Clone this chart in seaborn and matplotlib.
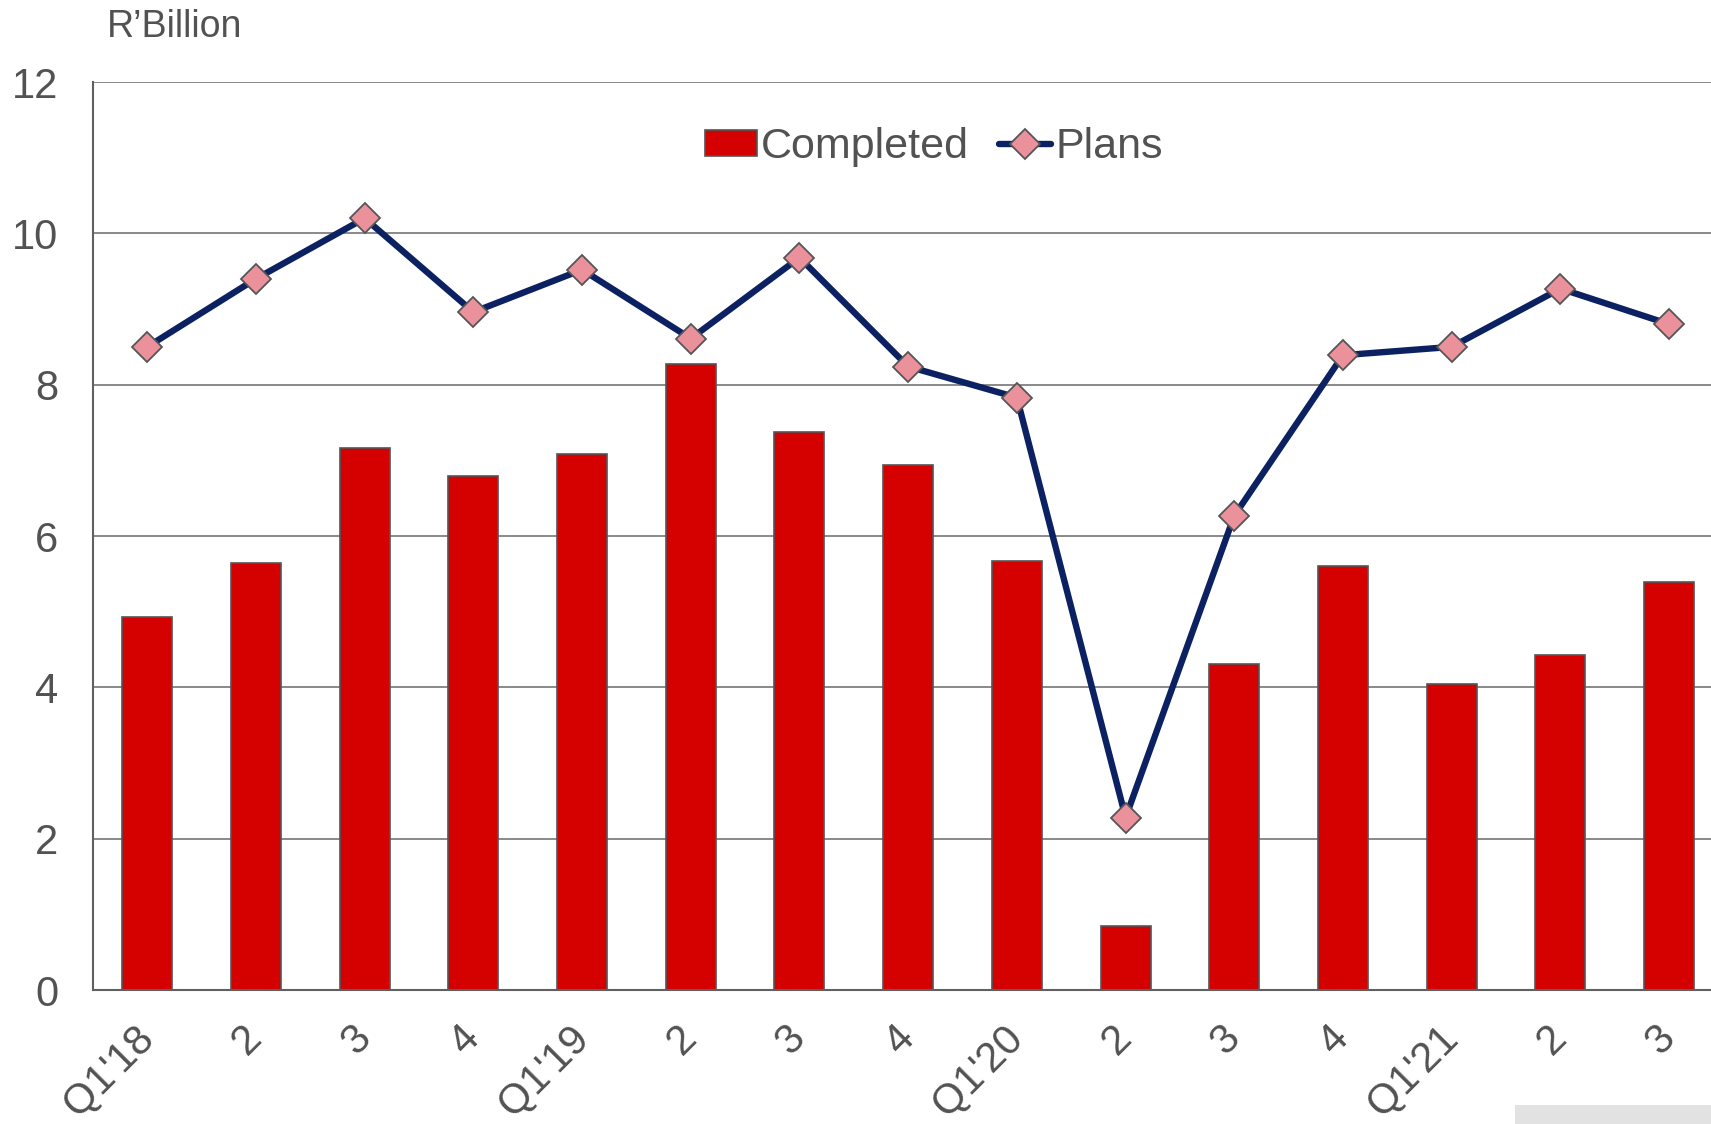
import numpy as np
import pandas as pd
import matplotlib
matplotlib.use('Agg')
import matplotlib.pyplot as plt
from matplotlib.patches import Patch, Rectangle
from matplotlib.lines import Line2D
import seaborn as sns

quarters = ["Q1'18", '2', '3', '4', "Q1'19", '2', '3', '4', "Q1'20", '2', '3', '4', "Q1'21", '2', '3']
completed = [4.93, 5.64, 7.17, 6.79, 7.08, 8.28, 7.37, 6.94, 5.67, 0.85, 4.31, 5.60, 4.04, 4.43, 5.39]
plans = [8.50, 9.40, 10.20, 8.96, 9.52, 8.61, 9.68, 8.24, 7.83, 2.28, 6.27, 8.39, 8.50, 9.27, 8.80]

bar_color = '#D50000'
line_color = '#0B2161'
marker_color = '#EA919C'
edge_grey = '#555555'
text_grey = '#525252'

sns.set_style('white')
plt.rcParams['font.family'] = ['Liberation Sans', 'DejaVu Sans']

df = pd.DataFrame({'pos': np.arange(len(quarters)), 'completed': completed, 'plans': plans})

fig = plt.figure(figsize=(17.11, 11.24), dpi=100)
ax = fig.add_axes([0.0543, 0.1192, 0.953, 0.8078])

sns.barplot(data=df, x='pos', y='completed', color=bar_color, saturation=1, width=0.46,
            edgecolor=edge_grey, linewidth=1.2, ax=ax, zorder=2)
sns.lineplot(data=df, x='pos', y='plans', color=line_color, linewidth=4.6,
             marker='D', markersize=15, markerfacecolor=marker_color,
             markeredgecolor=edge_grey, markeredgewidth=1.3, ax=ax, zorder=3)

ax.set_xlim(-0.5, 14.5)
ax.set_ylim(0, 12)
ax.set_yticks(range(0, 13, 2))
ax.set_yticklabels([str(v) for v in range(0, 13, 2)], fontsize=30, color=text_grey)
ax.set_xticks(range(len(quarters)))
ax.set_xticklabels(quarters, fontsize=30, color=text_grey, rotation=45,
                   ha='right', va='center', rotation_mode='anchor')
ax.tick_params(axis='both', length=0)
ax.tick_params(axis='y', pad=25)
ax.tick_params(axis='x', pad=30)
ax.set_xlabel('')
ax.set_ylabel('')

ax.set_axisbelow(True)
ax.yaxis.grid(True, color='#808080', linewidth=1.3)
ax.xaxis.grid(False)
for side in ['top', 'right']:
    ax.spines[side].set_visible(False)
for side in ['left', 'bottom']:
    ax.spines[side].set_color('#606060')
    ax.spines[side].set_linewidth(1.5)

handles = [Patch(facecolor=bar_color, edgecolor=edge_grey, linewidth=1.2),
           Line2D([0], [0], color=line_color, linewidth=4.6, marker='D', markersize=15,
                  markerfacecolor=marker_color, markeredgecolor=edge_grey, markeredgewidth=1.3,
                  solid_capstyle='round')]
leg = ax.legend(handles, ['Completed', 'Plans'], loc='center', bbox_to_anchor=(934 / 1711, 1 - 147 / 1124),
                bbox_transform=fig.transFigure, ncol=2, frameon=False, fontsize=31,
                handlelength=1.2, handletextpad=0.1, columnspacing=0.7, handleheight=0.55)
for t in leg.get_texts():
    t.set_color(text_grey)

fig.text(107 / 1711, 1 - 27 / 1124, 'R\u2019Billion', fontsize=27, color=text_grey, ha='left', va='center')
fig.patches.append(Rectangle((1515 / 1711, 0), 1 - 1515 / 1711, 19 / 1124, transform=fig.transFigure,
                             facecolor='#e2e2e2', edgecolor='none'))

fig.savefig('out.png', dpi=100)
